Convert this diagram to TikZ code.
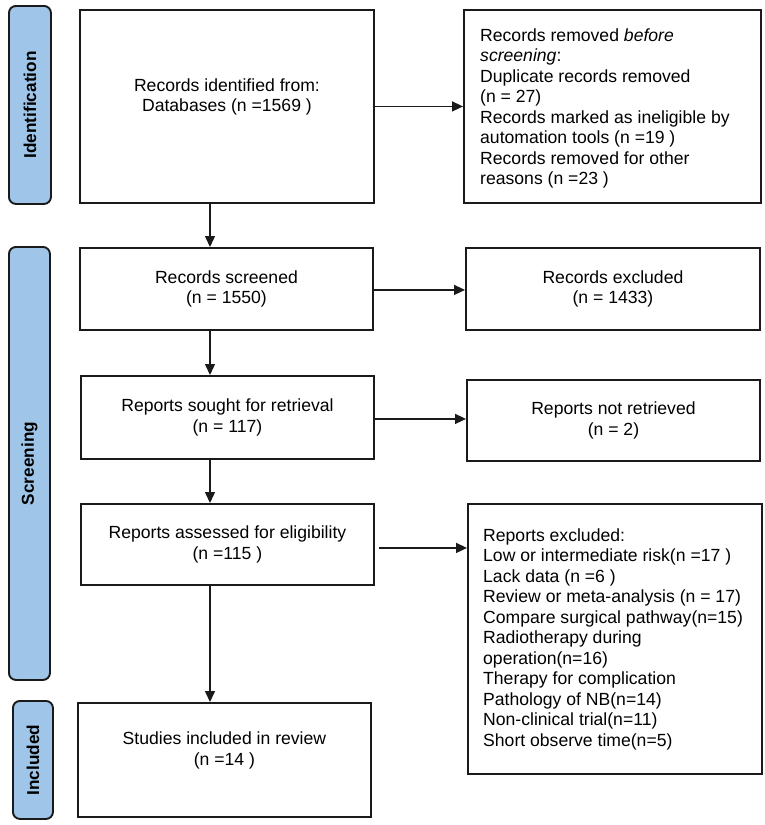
\documentclass[tikz,border=0pt]{standalone}
\usepackage{fontspec}
\setmainfont{Liberation Sans}
\usetikzlibrary{arrows.meta}
\definecolor{barblue}{HTML}{9FC5E8}
\definecolor{edge}{HTML}{1A1A1A}
\begin{document}
\begin{tikzpicture}[x=1pt,y=-1pt,
  boxst/.style={draw=edge, line width=1.9pt, inner sep=0pt, anchor=north west},
  barst/.style={draw=edge, fill=barblue, line width=1.9pt, rounded corners=7pt, inner sep=0pt, anchor=north west},
  bartext/.style={font=\fontsize{17.2}{20}\selectfont\bfseries, rotate=90, inner sep=0pt},
  txt/.style={font=\fontsize{17.6}{20.5}\selectfont, align=center, inner sep=0pt},
  ltxt/.style={font=\fontsize{17.6}{20.5}\selectfont, align=left, inner sep=0pt, anchor=north west},
  arr/.style={line width=1.5pt, draw=edge, -{Triangle[length=11pt,width=10pt]}}]
\useasboundingbox (0,0) rectangle (765,825);
% phase bars
\node[barst, minimum width=42pt, minimum height=198pt] (idbar) at (8,5) {};
\node[bartext] (idlab) at (idbar.center) {Identification};
\node[barst, minimum width=41pt, minimum height=433pt] (scbar) at (8,246) {};
\node[bartext] (sclab) at (scbar.center) {Screening};
\node[barst, minimum width=40pt, minimum height=118pt] (inbar) at (12,700) {};
\node[bartext] (inlab) at (inbar.center) {Included};
% left column boxes
\node[boxst, minimum width=294pt, minimum height=193pt] (b1) at (79,9) {};
\node[txt] (t1) at ([yshift=9.5pt]b1.center) {Records identified from:\\Databases (n =1569 )};
\node[boxst, minimum width=293pt, minimum height=82pt] (b2) at (79,247) {};
\node[txt] (t2) at (b2.center) {Records screened\\(n = 1550)};
\node[boxst, minimum width=293pt, minimum height=83pt] (b3) at (80,375) {};
\node[txt] (t3) at (b3.center) {Reports sought for retrieval\\(n = 117)};
\node[boxst, minimum width=293pt, minimum height=81pt] (b4) at (80,503) {};
\node[txt] (t4) at (b4.center) {Reports assessed for eligibility\\(n =115 )};
\node[boxst, minimum width=293pt, minimum height=114pt] (b5) at (77,702) {};
\node[txt] (t5) at ([yshift=9.5pt]b5.center) {Studies included in review\\(n =14 )};
% right column boxes
\node[boxst, minimum width=297pt, minimum height=193pt] (r1) at (463,9) {};
\node[ltxt] (tr1) at (480,28.5) {Records removed \textit{before}\\\textit{screening}:\\Duplicate records removed\\(n = 27)\\Records marked as ineligible by\\automation tools (n =19 )\\Records removed for other\\reasons (n =23 )};
\node[boxst, minimum width=294pt, minimum height=82pt] (r2) at (465,247) {};
\node[txt] (tr2) at (r2.center) {Records excluded\\(n = 1433)};
\node[boxst, minimum width=293pt, minimum height=81pt] (r3) at (466,379) {};
\node[txt] (tr3) at (r3.center) {Reports not retrieved\\(n = 2)};
\node[boxst, minimum width=294pt, minimum height=270pt] (r4) at (467,503) {};
\node[ltxt] (tr4) at (483,528.5) {Reports excluded:\\Low or intermediate risk(n =17 )\\Lack data (n =6 )\\Review or meta-analysis (n = 17)\\Compare surgical pathway(n=15)\\Radiotherapy during\\operation(n=16)\\Therapy for complication\\Pathology of NB(n=14)\\Non-clinical trial(n=11)\\Short observe time(n=5)};
% connectors
\coordinate (ax) at (210,0);
\draw[arr] (b1.south -| ax) -- (b2.north -| ax);
\draw[arr] (b2.south -| ax) -- (b3.north -| ax);
\draw[arr] (b3.south -| ax) -- (b4.north -| ax);
\draw[arr] (b4.south -| ax) -- (b5.north -| ax);
\draw[arr] (b1.east) -- (b1.east -| r1.west);
\draw[arr] ([yshift=-1pt]b2.east) -- ([yshift=-1pt]b2.east -| r2.west);
\draw[arr] ([yshift=-1.5pt]b3.east) -- ([yshift=-1.5pt]b3.east -| r3.west);
\draw[arr] ([xshift=4pt,yshift=-3.5pt]b4.east) -- ([yshift=-3.5pt]b4.east -| r4.west);
\end{tikzpicture}
\end{document}
